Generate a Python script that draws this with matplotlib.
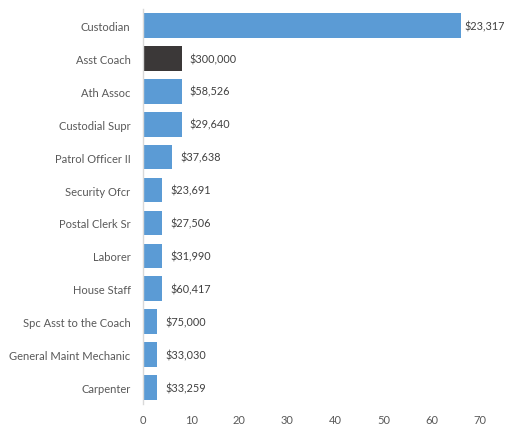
import matplotlib
matplotlib.use("Agg")
import matplotlib.pyplot as plt

titles = ["Custodian", "Asst Coach", "Ath Assoc", "Custodial Supr", "Patrol Officer II",
          "Security Ofcr", "Postal Clerk Sr", "Laborer", "House Staff",
          "Spc Asst to the Coach", "General Maint Mechanic", "Carpenter"]
counts = [66, 8, 8, 8, 6, 4, 4, 4, 4, 3, 3, 3]
salaries = ["$23,317", "$300,000", "$58,526", "$29,640", "$37,638", "$23,691",
            "$27,506", "$31,990", "$60,417", "$75,000", "$33,030", "$33,259"]
highlight = "Asst Coach"

plt.rcParams['font.family'] = ['Lato', 'DejaVu Sans']
text_color = "#595959"

fig = plt.figure(figsize=(5.08, 4.27), dpi=100)
ax = fig.add_axes([0.2815, 0.0515, 0.6635, 0.925])

ypos = list(range(len(titles)))
colors = ["#3B3838" if t == highlight else "#5B9BD5" for t in titles]
bars = ax.barh(ypos, counts, height=0.75, color=colors)
for b, s in zip(bars, salaries):
    # long bars get a tighter gap so the label stays inside the figure
    gap = 2.5 if b.get_width() > 60 else 6
    ax.annotate(s, (b.get_width(), b.get_y() + b.get_height() / 2),
                xytext=(gap, 0), textcoords="offset points",
                va="center", ha="left", fontsize=7.8, color="#404040")

ax.set_yticks(ypos)
ax.set_yticklabels(titles, fontsize=8, color=text_color)
ax.set_ylim(len(titles) - 0.5, -0.5)
ax.set_xlim(0, 70)
ax.set_xticks(range(0, 71, 10))
ax.tick_params(axis="x", labelsize=8, labelcolor=text_color, length=0, pad=7)
ax.tick_params(axis="y", length=0, pad=9)
for side in ["top", "right", "bottom"]:
    ax.spines[side].set_visible(False)
ax.spines["left"].set_color("#D9D9D9")
ax.spines["left"].set_linewidth(1.0)

fig.savefig("out.png", dpi=100)
